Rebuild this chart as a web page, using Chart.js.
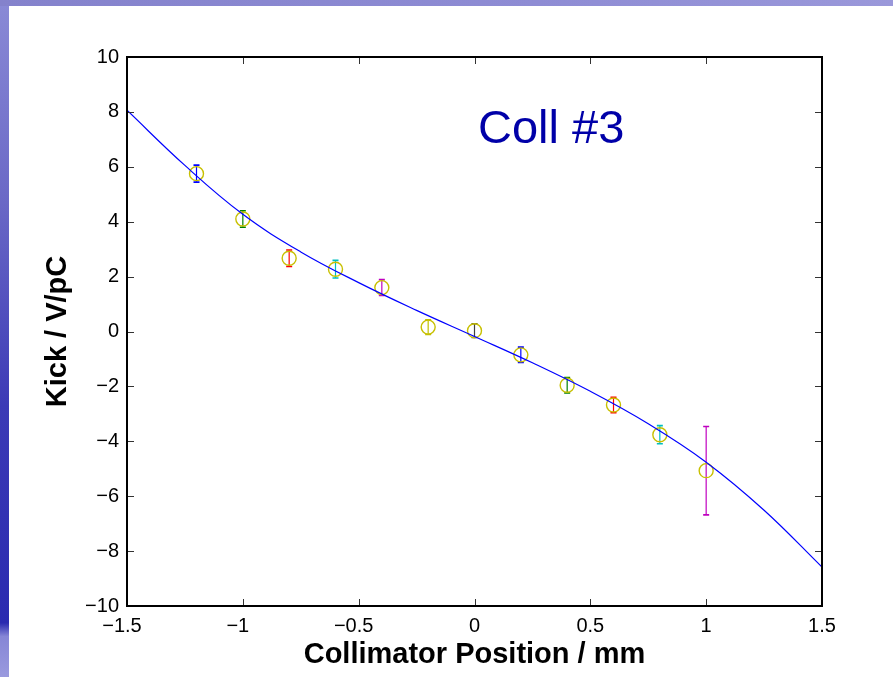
<!DOCTYPE html>
<html>
<head>
<meta charset="utf-8">
<script src="https://cdn.jsdelivr.net/npm/chart.js@4"></script>
<style>
  html, body { margin: 0; padding: 0; width: 893px; height: 677px; overflow: hidden; background: #fff; }
  #strip { position: absolute; left: 0; top: 0; width: 9px; height: 677px;
    background: linear-gradient(to bottom, #8a8ad6 0%, #6a68c6 30%, #3c3ab6 60%, #2a2ab0 92%, #8686d6 94%, #9a9ade 100%); }
  #band { position: absolute; left: 0; top: 0; width: 893px; height: 6px;
    background: linear-gradient(to right, #8482cc 0%, #8e8cd4 60%, #9a98da 100%); }
  #wrap { position: absolute; left: 0; top: 0; width: 893px; height: 677px; }
</style>
</head>
<body>
<div id="strip"></div>
<div id="band"></div>
<div id="wrap"><canvas id="kick-canvas" width="893" height="677"></canvas></div>
<script>
// measured points
var positions = [-1.2, -1.0, -0.8, -0.6, -0.4, -0.2, 0, 0.2, 0.4, 0.6, 0.8, 1.0];
var kicks = [5.75, 4.10, 2.67, 2.27, 1.60, 0.16, 0.03, -0.85, -1.96, -2.68, -3.76, -5.07];
var kickErrors = [0.31, 0.30, 0.30, 0.32, 0.29, 0.27, 0.25, 0.28, 0.28, 0.28, 0.33, 1.61];
var errColors = ['#0000ff', '#008000', '#ff0000', '#00bfbf', '#bf00bf', '#bfbf00',
                 '#404040', '#0000ff', '#008000', '#ff0000', '#00bfbf', '#bf00bf'];

// fit curve
var fitX = [-1.5, -1.25, -1.0, -0.75, -0.5, -0.25, 0, 0.25, 0.5, 0.75, 1.0, 1.25, 1.5];
var fitY = [8.06, 6.05, 4.27, 2.90, 1.78, 0.77, -0.18, -1.14, -2.18, -3.36, -4.76, -6.51, -8.58];

var label = 'Coll #3';
var labelPos = [0.015, 6.86];

function fmt(v) {
  if (v === 0) return '0';
  return (v < 0 ? '\u2212' : '') + Math.abs(v);
}

var errorBars = {
  id: 'errorBars',
  beforeDatasetsDraw: function(chart) {
    var ctx = chart.ctx, xs = chart.scales.x, ys = chart.scales.y;
    ctx.save();
    for (var i = 0; i < positions.length; i++) {
      var px = xs.getPixelForValue(positions[i]);
      var top = ys.getPixelForValue(kicks[i] + kickErrors[i]);
      var bot = ys.getPixelForValue(kicks[i] - kickErrors[i]);
      ctx.strokeStyle = errColors[i];
      ctx.lineWidth = 1.2;
      ctx.beginPath();
      ctx.moveTo(px, top); ctx.lineTo(px, bot);
      ctx.stroke();
      ctx.lineWidth = 1.6;
      ctx.beginPath();
      ctx.moveTo(px - 3, top); ctx.lineTo(px + 3, top);
      ctx.moveTo(px - 3, bot); ctx.lineTo(px + 3, bot);
      ctx.stroke();
    }
    ctx.restore();
  }
};

var axesBox = {
  id: 'axesBox',
  afterDraw: function(chart) {
    var ctx = chart.ctx, a = chart.chartArea;
    var xs = chart.scales.x, ys = chart.scales.y;
    ctx.save();
    ctx.strokeStyle = '#333';
    ctx.lineWidth = 1;
    ctx.beginPath();
    xs.ticks.forEach(function(t) {
      var px = Math.round(xs.getPixelForValue(t.value)) + 0.5;
      ctx.moveTo(px, a.bottom); ctx.lineTo(px, a.bottom - 7);
      ctx.moveTo(px, a.top); ctx.lineTo(px, a.top + 7);
    });
    ys.ticks.forEach(function(t) {
      var py = Math.round(ys.getPixelForValue(t.value)) + 0.5;
      ctx.moveTo(a.left, py); ctx.lineTo(a.left + 7, py);
      ctx.moveTo(a.right, py); ctx.lineTo(a.right - 7, py);
    });
    ctx.stroke();
    ctx.strokeStyle = '#000';
    ctx.lineWidth = 2;
    ctx.strokeRect(a.left, a.top, a.right - a.left, a.bottom - a.top);

    ctx.fillStyle = '#0000a8';
    ctx.font = '47px "Liberation Sans", Arial, sans-serif';
    ctx.textAlign = 'left';
    ctx.textBaseline = 'alphabetic';
    ctx.fillText(label, xs.getPixelForValue(labelPos[0]), ys.getPixelForValue(labelPos[1]));
    ctx.restore();
  }
};

var ctx = document.getElementById('kick-canvas').getContext('2d');
var chartObj = new Chart(ctx, {
  type: 'scatter',
  data: {
    datasets: [{
      type: 'line',
      data: fitX.map(function(x, i) { return {x: x, y: fitY[i]}; }),
      borderColor: '#0000ff',
      borderWidth: 1.2,
      pointRadius: 0,
      fill: false,
      tension: 0.4,
      order: 0
    }, {
      data: positions.map(function(x, i) { return {x: x, y: kicks[i]}; }),
      pointStyle: 'circle',
      pointRadius: 7,
      pointBorderWidth: 1.4,
      pointBorderColor: '#c8c000',
      pointBackgroundColor: 'rgba(0,0,0,0)',
      order: 1
    }]
  },
  options: {
    responsive: false,
    animation: false,
    events: [],
    layout: { padding: { left: 0, top: 57, right: 71, bottom: 0 } },
    plugins: { legend: { display: false }, tooltip: { enabled: false } },
    scales: {
      x: {
        type: 'linear',
        min: -1.5, max: 1.5,
        afterFit: function(s) { s.height = 71; },
        grid: { display: false, drawTicks: false },
        border: { display: false },
        ticks: {
          stepSize: 0.5, autoSkip: false, maxRotation: 0, padding: 8,
          color: '#000',
          font: { family: '"Liberation Sans", Arial, sans-serif', size: 20 },
          callback: function(v) { return v < 0 ? fmt(v) + '\u2002' : fmt(v); }
        },
        title: {
          display: true, text: 'Collimator Position / mm', color: '#000',
          padding: { top: 0, bottom: 5 },
          font: { family: '"Liberation Sans", Arial, sans-serif', size: 29, weight: 'bold' }
        }
      },
      y: {
        min: -10, max: 10,
        afterFit: function(s) { s.width = 127; },
        grid: { display: false, drawTicks: false },
        border: { display: false },
        ticks: {
          stepSize: 2, autoSkip: false, padding: 8,
          color: '#000',
          font: { family: '"Liberation Sans", Arial, sans-serif', size: 20 },
          callback: function(v) { return fmt(v); }
        },
        title: {
          display: true, text: 'Kick / V/pC', color: '#000',
          padding: { top: 41, bottom: 0 },
          font: { family: '"Liberation Sans", Arial, sans-serif', size: 29, weight: 'bold' }
        }
      }
    }
  },
  plugins: [errorBars, axesBox]
});
</script>
</body>
</html>
